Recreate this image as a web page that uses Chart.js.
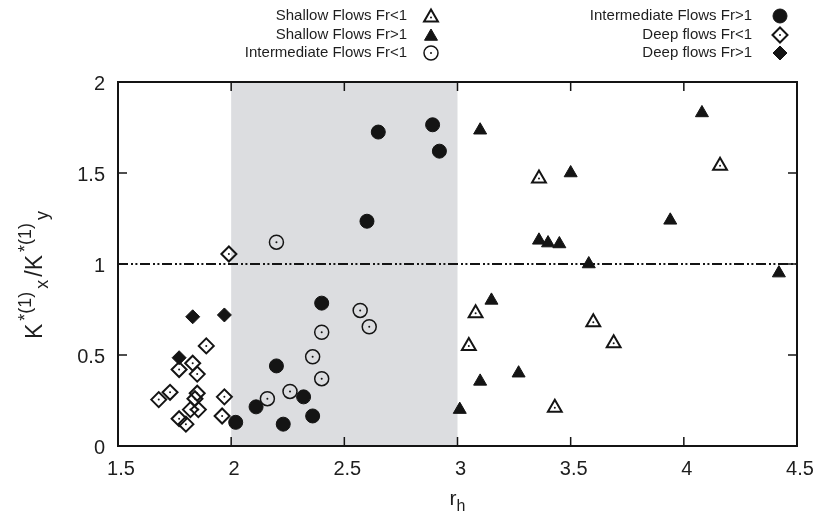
<!DOCTYPE html>
<html>
<head>
<meta charset="utf-8">
<title>K*x / K*y versus r_h</title>
<script src="https://cdn.jsdelivr.net/npm/chart.js@4.4.0/dist/chart.umd.min.js"></script>
<style>
    html, body { margin: 0; padding: 0; background: #ffffff; overflow: hidden; }
    #wrap { width: 813px; height: 515px; position: relative; overflow: hidden; }
</style>
</head>
<body>
<div id="wrap"><canvas id="ratioChart" width="840" height="515"></canvas></div>
<script>
// r_h and K*(1)x / K*(1)y for each flow regime
const shallowSubX = [4.16, 3.36, 3.08, 3.60, 3.05, 3.69, 3.43];
const shallowSubY = [1.54, 1.47, 0.73, 0.68, 0.55, 0.565, 0.21];

const shallowSupX = [4.08, 3.10, 3.50, 3.94, 3.36, 3.40, 3.45, 3.58, 4.42, 3.15, 3.27, 3.10, 3.01];
const shallowSupY = [1.83, 1.735, 1.50, 1.24, 1.13, 1.115, 1.11, 1.00, 0.95, 0.80, 0.40, 0.355, 0.20];

const interSubX = [2.20, 2.57, 2.61, 2.40, 2.36, 2.40, 2.26, 2.16];
const interSubY = [1.12, 0.745, 0.655, 0.625, 0.49, 0.37, 0.30, 0.26];

const interSupX = [2.65, 2.89, 2.92, 2.60, 2.40, 2.20, 2.32, 2.11, 2.36, 2.02, 2.23];
const interSupY = [1.725, 1.765, 1.62, 1.235, 0.785, 0.44, 0.27, 0.215, 0.165, 0.13, 0.12];

const deepSubX = [1.99, 1.89, 1.83, 1.77, 1.85, 1.73, 1.68, 1.85, 1.84, 1.855, 1.82, 1.97, 1.96, 1.77, 1.80];
const deepSubY = [1.055, 0.55, 0.455, 0.42, 0.395, 0.295, 0.255, 0.29, 0.26, 0.20, 0.20, 0.27, 0.165, 0.15, 0.12];

const deepSupX = [1.83, 1.97, 1.77];
const deepSupY = [0.71, 0.72, 0.485];

// axis ranges, shaded band and reference ratio
const xRange = [1.5, 4.5];
const yRange = [0, 2];
const tickStep = 0.5;
const bandRange = [2, 3];
const refRatio = 1;

const INK = '#141414';
const FONT = '"Liberation Sans", Arial, Helvetica, sans-serif';

function toPoints(xs, ys) {
    return xs.map((x, i) => ({ x: x, y: ys[i] }));
}

// "2" instead of "2.0", "1.5" stays
function tickText(v) {
    return String(Math.round(v * 10) / 10);
}

// marker look per series (also used by the legend)
const series = [
    { label: 'Shallow Flows Fr<1', xs: shallowSubX, ys: shallowSubY, style: 'triangle', r: 8, filled: false, dot: true },
    { label: 'Shallow Flows Fr>1', xs: shallowSupX, ys: shallowSupY, style: 'triangle', r: 7.5, filled: true, dot: false },
    { label: 'Intermediate Flows Fr<1', xs: interSubX, ys: interSubY, style: 'circle', r: 7, filled: false, dot: true },
    { label: 'Intermediate Flows Fr>1', xs: interSupX, ys: interSupY, style: 'circle', r: 7, filled: true, dot: false },
    { label: 'Deep flows Fr<1', xs: deepSubX, ys: deepSubY, style: 'rectRot', r: 7.5, filled: false, dot: true },
    { label: 'Deep flows Fr>1', xs: deepSupX, ys: deepSupY, style: 'rectRot', r: 7, filled: true, dot: false }
];

const datasets = series.map(s => ({
    label: s.label,
    data: toPoints(s.xs, s.ys),
    pointStyle: s.style,
    pointRadius: s.r,
    pointBackgroundColor: s.filled ? INK : 'rgba(0,0,0,0)',
    pointBorderColor: INK,
    pointBorderWidth: s.filled ? 1 : (s.style === 'circle' ? 1.5 : 2),
    showLine: false,
    centerDot: s.dot,
    order: 1
}));

// horizontal dash-dot-dot line at ratio = 1
datasets.push({
    type: 'line',
    label: 'ref',
    data: [{ x: xRange[0], y: refRatio }, { x: xRange[1], y: refRatio }],
    borderColor: INK,
    borderWidth: 1.8,
    borderDash: [10, 3, 2, 2.4, 2, 2.6],
    pointRadius: 0,
    fill: false,
    order: 5
});

// small marker painter for the legend
function drawMarker(ctx, s, x, y) {
    ctx.save();
    ctx.beginPath();
    const r = s.r;
    if (s.style === 'circle') {
        ctx.arc(x, y, r, 0, Math.PI * 2);
    } else if (s.style === 'triangle') {
        ctx.moveTo(x, y - r);
        ctx.lineTo(x + r * Math.sin(2 * Math.PI / 3), y + r / 2);
        ctx.lineTo(x - r * Math.sin(2 * Math.PI / 3), y + r / 2);
        ctx.closePath();
    } else {
        ctx.moveTo(x - r, y);
        ctx.lineTo(x, y - r);
        ctx.lineTo(x + r, y);
        ctx.lineTo(x, y + r);
        ctx.closePath();
    }
    ctx.strokeStyle = INK;
    ctx.lineWidth = s.filled ? 1 : (s.style === 'circle' ? 1.5 : 2);
    if (s.filled) {
        ctx.fillStyle = INK;
        ctx.fill();
    }
    ctx.stroke();
    if (s.dot) {
        ctx.beginPath();
        ctx.arc(x, y, 1, 0, Math.PI * 2);
        ctx.fillStyle = INK;
        ctx.fill();
    }
    ctx.restore();
}

// grey band, frame and inward ticks
const framePlugin = {
    id: 'frame',
    beforeDatasetsDraw(chart) {
        const { ctx, chartArea: a, scales: { x, y } } = chart;
        ctx.save();
        ctx.fillStyle = '#dcdde0';
        const b0 = x.getPixelForValue(bandRange[0]);
        const b1 = x.getPixelForValue(bandRange[1]);
        ctx.fillRect(b0, a.top, b1 - b0, a.bottom - a.top);

        ctx.strokeStyle = INK;
        ctx.lineWidth = 1.5;
        const tl = 9;
        ctx.beginPath();
        x.ticks.forEach(t => {
            const px = x.getPixelForValue(t.value);
            ctx.moveTo(px, a.bottom);
            ctx.lineTo(px, a.bottom - tl);
            ctx.moveTo(px, a.top);
            ctx.lineTo(px, a.top + tl);
        });
        y.ticks.forEach(t => {
            const py = y.getPixelForValue(t.value);
            ctx.moveTo(a.left, py);
            ctx.lineTo(a.left + tl, py);
            ctx.moveTo(a.right, py);
            ctx.lineTo(a.right - tl, py);
        });
        ctx.stroke();

        ctx.lineWidth = 2;
        ctx.strokeRect(a.left, a.top, a.right - a.left, a.bottom - a.top);
        ctx.restore();
    },
    afterDatasetsDraw(chart) {
        // centre dots of the open markers
        const ctx = chart.ctx;
        ctx.save();
        ctx.fillStyle = INK;
        chart.data.datasets.forEach((ds, i) => {
            if (!ds.centerDot) return;
            chart.getDatasetMeta(i).data.forEach(pt => {
                ctx.beginPath();
                ctx.arc(pt.x, pt.y, 1, 0, Math.PI * 2);
                ctx.fill();
            });
        });
        ctx.restore();
    }
};

// legend in two right-aligned columns, axis titles with sub/superscripts
const labelPlugin = {
    id: 'labels',
    afterDraw(chart) {
        const ctx = chart.ctx;
        const a = chart.chartArea;
        ctx.save();
        ctx.fillStyle = '#1e1e1e';
        ctx.font = '15px ' + FONT;
        ctx.textAlign = 'right';
        ctx.textBaseline = 'middle';
        const rows = [16, 35, 53];
        const cols = [{ text: 407, mark: 431 }, { text: 752, mark: 780 }];
        series.forEach((s, i) => {
            const col = cols[Math.floor(i / 3)];
            const yy = rows[i % 3];
            ctx.fillText(s.label, col.text, yy);
            drawMarker(ctx, s, col.mark, yy + (s.style === 'triangle' ? 1.5 : 0));
        });

        // x title: r_h
        ctx.textAlign = 'left';
        ctx.textBaseline = 'alphabetic';
        ctx.font = '21px ' + FONT;
        const wr = ctx.measureText('r').width;
        ctx.font = '16px ' + FONT;
        const wh = ctx.measureText('h').width;
        const cx = (a.left + a.right) / 2;
        const sx = cx - (wr + wh) / 2;
        ctx.font = '21px ' + FONT;
        ctx.fillText('r', sx, 505);
        ctx.font = '16px ' + FONT;
        ctx.fillText('h', sx + wr, 511);

        // y title: K*(1)_x / K*(1)_y
        const gap = 3;
        const parts = [
            { t: 'K', size: 23, dy: 0 },
            { t: '*(1)', size: 18, dy: -11 },
            { t: 'x', size: 18, dy: 6 },
            { t: '/K', size: 23, dy: 0 },
            { t: '*(1)', size: 18, dy: -11 },
            { t: 'y', size: 18, dy: 6 }
        ];
        let total = -gap;
        parts.forEach(p => {
            ctx.font = p.size + 'px ' + FONT;
            p.w = ctx.measureText(p.t).width;
            total += p.w + gap;
        });
        ctx.translate(42, 275);
        ctx.rotate(-Math.PI / 2);
        let px = -total / 2;
        parts.forEach(p => {
            ctx.font = p.size + 'px ' + FONT;
            ctx.fillText(p.t, px, p.dy);
            px += p.w + gap;
        });
        ctx.restore();
    }
};

const chart = new Chart(document.getElementById('ratioChart'), {
    type: 'scatter',
    data: { datasets: datasets },
    options: {
        responsive: false,
        animation: false,
        events: [],
        layout: { padding: { top: 82, right: 43, left: 0, bottom: 0 } },
        plugins: {
            legend: { display: false },
            tooltip: { enabled: false }
        },
        scales: {
            x: {
                type: 'linear',
                min: xRange[0],
                max: xRange[1],
                grid: { display: false, drawTicks: false },
                border: { display: false },
                ticks: {
                    stepSize: tickStep,
                    padding: 11,
                    labelOffset: 3,
                    color: '#1e1e1e',
                    font: { family: FONT, size: 20 },
                    maxRotation: 0,
                    callback: tickText
                },
                afterFit(scale) { scale.height = 69; }
            },
            y: {
                type: 'linear',
                min: yRange[0],
                max: yRange[1],
                grid: { display: false, drawTicks: false },
                border: { display: false },
                ticks: {
                    stepSize: tickStep,
                    padding: 13,
                    labelOffset: 2,
                    color: '#1e1e1e',
                    font: { family: FONT, size: 20 },
                    callback: tickText
                },
                afterFit(scale) { scale.width = 118; }
            }
        }
    },
    plugins: [framePlugin, labelPlugin]
});
</script>
</body>
</html>
